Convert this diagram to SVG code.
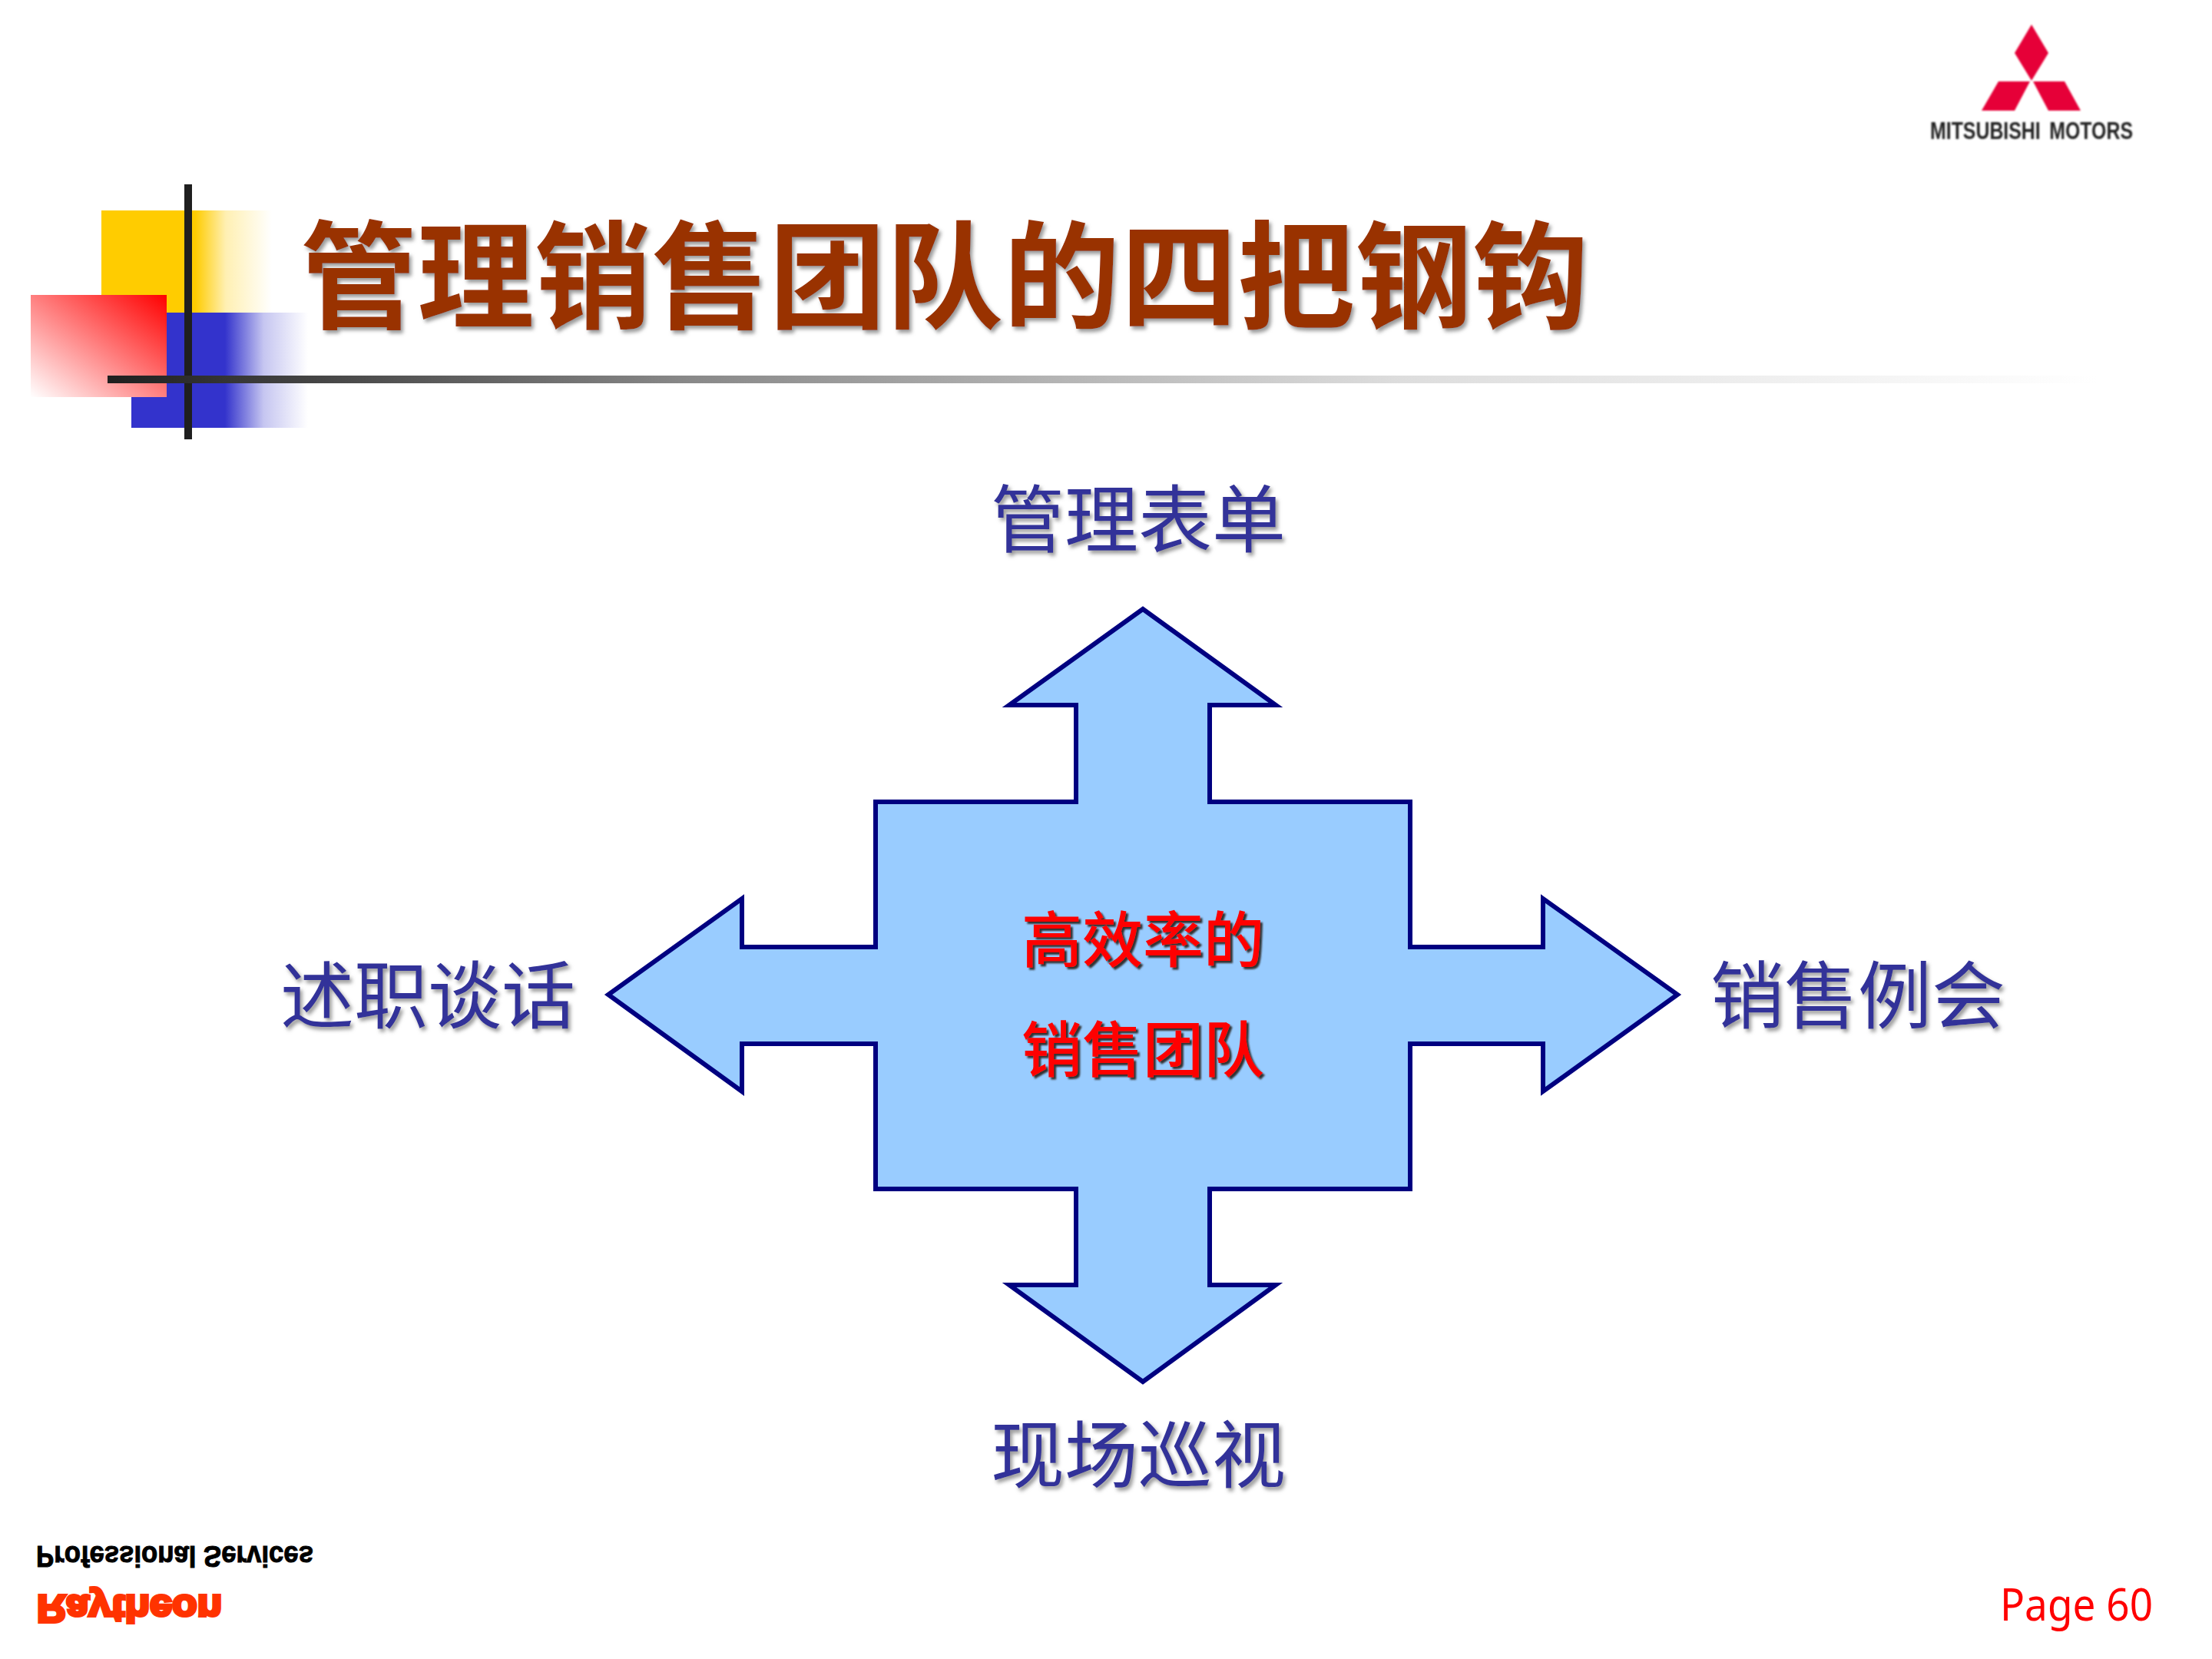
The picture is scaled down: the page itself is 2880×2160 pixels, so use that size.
<svg xmlns="http://www.w3.org/2000/svg" width="2880" height="2160" viewBox="0 0 2880 2160">
<style>
.cjk{font-family:"Noto Sans CJK SC","Noto Sans CJK TC",sans-serif}
.lab{font-size:96px;fill:#333399;text-anchor:middle;filter:url(#sh)}
.mid{font-size:79px;fill:#ff0000;font-weight:500;text-anchor:middle;filter:url(#sh2)}
</style>
<defs>
<linearGradient id="gy" x1="0" x2="1" y1="0" y2="0"><stop offset="0" stop-color="#ffcc00"/><stop offset=".55" stop-color="#ffcc00"/><stop offset=".73" stop-color="#ffcc00" stop-opacity=".3"/><stop offset="1" stop-color="#ffcc00" stop-opacity="0"/></linearGradient>
<linearGradient id="gb" x1="0" x2="1" y1="0" y2="0"><stop offset="0" stop-color="#3333cc"/><stop offset=".53" stop-color="#3333cc"/><stop offset=".75" stop-color="#3333cc" stop-opacity=".28"/><stop offset="1" stop-color="#3333cc" stop-opacity="0"/></linearGradient>
<linearGradient id="gr" x1="1" x2="0" y1="0" y2="1"><stop offset="0" stop-color="#ff0000"/><stop offset="1" stop-color="#ffffff"/></linearGradient>
<linearGradient id="gl" x1="0" x2="1" y1="0" y2="0"><stop offset="0" stop-color="#1f1f1f"/><stop offset=".29" stop-color="#888888"/><stop offset=".65" stop-color="#dddddd"/><stop offset="1" stop-color="#ffffff"/></linearGradient>
<filter id="sh" x="-10%" y="-10%" width="120%" height="130%"><feDropShadow dx="3" dy="4" stdDeviation="2.5" flood-color="#999999"/></filter>
<filter id="sh2" x="-10%" y="-10%" width="120%" height="130%"><feDropShadow dx="3" dy="3" stdDeviation="1" flood-color="#333333"/></filter>
<filter id="bl"><feGaussianBlur stdDeviation=".8"/></filter>
</defs>
<rect width="2880" height="2160" fill="#fff"/>
<g id="decor">
<rect x="132" y="274" width="222" height="133" fill="url(#gy)"/>
<rect x="171" y="407" width="230" height="150" fill="url(#gb)"/>
<rect x="40" y="384" width="177" height="133" fill="url(#gr)"/>
<rect x="240" y="240" width="10" height="332" fill="#1f1f1f"/>
<rect x="140" y="489" width="2590" height="10" fill="url(#gl)"/>
</g>
<text id="title" class="cjk" x="391" y="416" font-size="152" letter-spacing=".6" font-weight="700" fill="#993300" filter="url(#sh)">管理销售团队的四把钢钩</text>
<g id="logo" filter="url(#bl)">
<path fill="#e60039" d="M2645 32L2667 69L2645 105L2623 69ZM2602 106H2643L2623 144H2580ZM2647 106H2688L2709 144H2667Z"/>
<text x="2513" y="181" font-family="'Liberation Sans',sans-serif" font-weight="700" font-size="32" fill="#222" word-spacing="6" textLength="264" lengthAdjust="spacingAndGlyphs">MITSUBISHI MOTORS</text>
</g>
<g id="arrow">
<path fill="#99ccff" stroke="#000080" stroke-width="6" d="M1488 793L1661 918H1575V1044H1836V1233H2009V1170L2184 1295L2009 1421V1359H1836V1548H1575V1673H1661L1488 1799L1314 1673H1401V1548H1140V1359H966V1421L792 1295L966 1170V1233H1140V1044H1401V918H1314Z"/>
</g>
<g id="center" class="cjk">
<text class="mid" x="1488" y="1253">高效率的</text>
<text class="mid" x="1488" y="1396">销售团队</text>
</g>
<g id="labels" class="cjk">
<text class="lab" x="1482" y="711">管理表单</text>
<text class="lab" x="557" y="1331">述职谈话</text>
<text class="lab" x="2419" y="1331">销售例会</text>
<text class="lab" x="1482" y="1929">现场巡视</text>
</g>
<g id="footer">
<text transform="translate(47,2013) scale(1,-1)" font-family="'Liberation Sans',sans-serif" font-weight="700" font-size="38" fill="#000" stroke="#000" stroke-width="1" textLength="361" lengthAdjust="spacingAndGlyphs">Professional Services</text>
<text transform="translate(48,2077) scale(1,-1)" font-family="'Liberation Sans',sans-serif" font-weight="700" font-size="50" fill="#ff3300" stroke="#ff3300" stroke-width="4" textLength="241" lengthAdjust="spacingAndGlyphs">Raytheon</text>
<text x="2604" y="2110" font-family="'Noto Sans',sans-serif" font-size="58" fill="#ff0000" textLength="199" lengthAdjust="spacingAndGlyphs">Page 60</text>
</g>
</svg>
